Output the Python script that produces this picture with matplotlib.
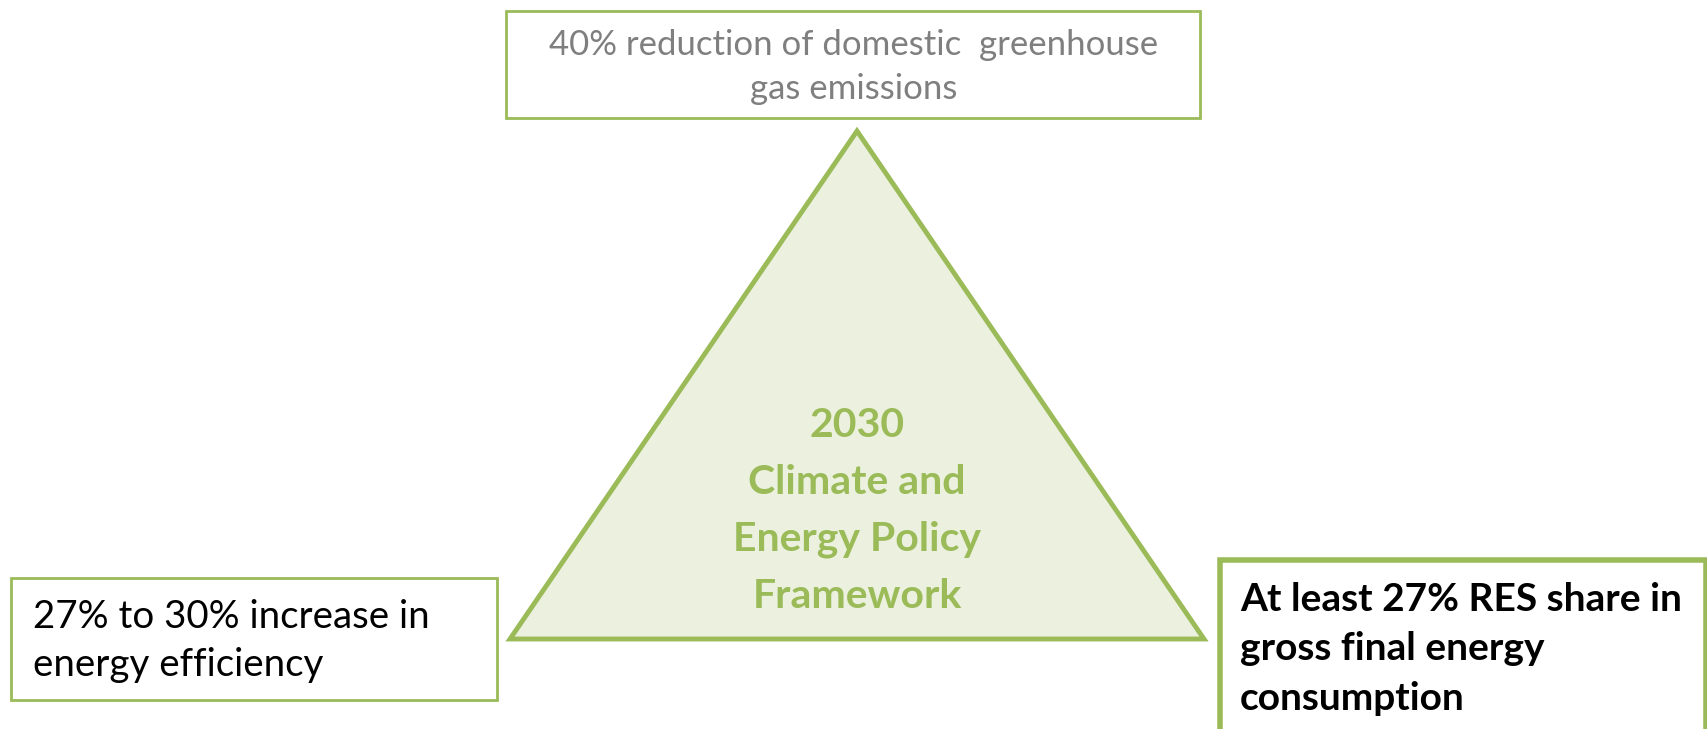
import matplotlib.pyplot as plt
from matplotlib.patches import Polygon, Rectangle

# text of the diagram
center_lines = ["2030", "Climate and", "Energy Policy", "Framework"]
top_text = "40% reduction of domestic  greenhouse\ngas emissions"
left_text = "27% to 30% increase in\nenergy efficiency"
right_text = "At least 27% RES share in\ngross final energy\nconsumption"

green = "#9BBB59"
fill = "#EBF1DE"
grey = "#7F7F7F"

plt.rcParams['font.family'] = ['Lato', 'DejaVu Sans']

fig = plt.figure(figsize=(17.08, 7.29), dpi=100)
ax = fig.add_axes([0, 0, 1, 1])
ax.set_xlim(0, 1708)
ax.set_ylim(729, 0)
ax.axis('off')

# triangle
tri = Polygon([(857, 131), (510, 639), (1204, 639)], closed=True,
              facecolor=fill, edgecolor=green, linewidth=3.5, joinstyle='miter')
ax.add_patch(tri)
for i, s in enumerate(center_lines):
    ax.text(857, 425 + i * 57, s, ha='center', va='center', fontsize=29.5,
            fontweight='bold', color=green)

# boxes
ax.add_patch(Rectangle((506, 11), 694, 107, facecolor='white', edgecolor=green, linewidth=2))
ax.text(854, 67, top_text, ha='center', va='center', fontsize=25, color=grey,
        linespacing=1.45)

ax.add_patch(Rectangle((11, 578), 486, 122, facecolor='white', edgecolor=green, linewidth=2))
ax.text(33, 641, left_text, ha='left', va='center', fontsize=27.7, color='black',
        linespacing=1.4)

ax.add_patch(Rectangle((1220, 560), 486, 200, facecolor='white', edgecolor=green,
                       linewidth=4, clip_on=True))
ax.text(1240, 649, right_text, ha='left', va='center', fontsize=28, color='black',
        fontweight='bold', linespacing=1.5)

fig.savefig("out.png", dpi=100)
